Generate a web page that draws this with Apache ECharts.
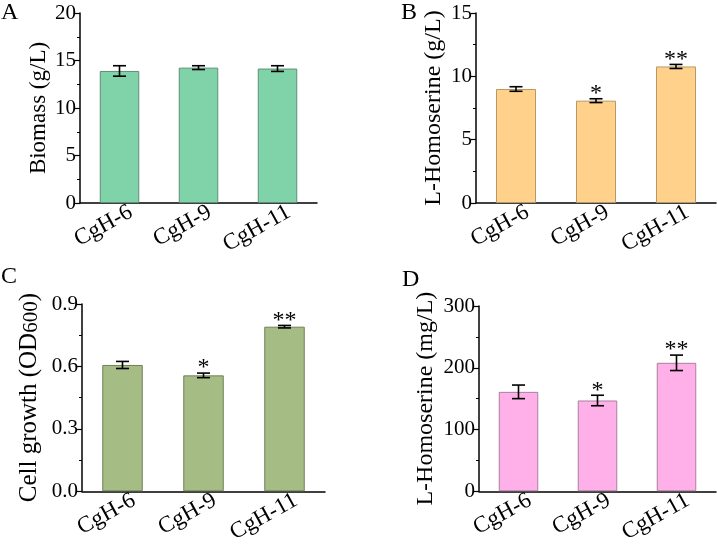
<!DOCTYPE html>
<html>
<head>
<meta charset="utf-8">
<script src="https://cdn.jsdelivr.net/npm/echarts@6/dist/echarts.min.js"></script>
<style>
html, body { margin: 0; padding: 0; background: #fff; }
#main { width: 717px; height: 546px; }
</style>
</head>
<body>
<div id="main"></div>
<script>
// strains on the x axis of every panel
const strains = ['CgH-6', 'CgH-9', 'CgH-11'];

// A: biomass (g/L)
const biomass = [13.9, 14.25, 14.15];
const biomassErr = [0.55, 0.2, 0.3];
const biomassSig = ['', '', ''];

// B: L-homoserine (g/L)
const homGL = [9.0, 8.08, 10.78];
const homGLErr = [0.18, 0.15, 0.16];
const homGLSig = ['', '*', '**'];

// C: cell growth (OD600)
const od600 = [0.607, 0.557, 0.791];
const od600Err = [0.017, 0.011, 0.006];
const od600Sig = ['', '*', '**'];

// D: L-homoserine (mg/L)
const homMgL = [161, 147, 208];
const homMgLErr = [11, 8.5, 12.5];
const homMgLSig = ['', '*', '**'];

// y axis ranges
const yMax = [20, 15, 0.9, 300];
const yStep = [5, 5, 0.3, 100];

var font = 'Liberation Serif';
var grids = [
    {left: 80, right: 400, top: 13, bottom: 343},
    {left: 476, right: 1, top: 13, bottom: 343},
    {left: 82, right: 392, top: 304, bottom: 52},
    {left: 479, right: 1, top: 306, bottom: 51}
];

function xAxis(i) {
    return {
        type: 'category',
        gridIndex: i,
        data: strains,
        axisLine: {lineStyle: {color: '#000', width: 1.5}},
        axisTick: {alignWithLabel: true, length: 5, lineStyle: {color: '#000', width: 1.2}},
        axisLabel: {rotate: 29, margin: 14, padding: [0, -13, 0, 0], fontFamily: font, fontSize: 23, color: '#000'}
    }
}

function yAxis(i, name, gap, size) {
    return {
        type: 'value',
        gridIndex: i,
        min: 0,
        max: yMax[i],
        interval: yStep[i],
        name: name,
        nameLocation: 'middle',
        nameGap: gap,
        nameTextStyle: {
            fontFamily: font, fontSize: size, color: '#000',
            rich: {
                a: {fontFamily: font, fontSize: size, color: '#000'},
                s: {fontFamily: font, fontSize: size - 4, color: '#000', verticalAlign: 'bottom'}
            }
        },
        axisLine: {show: true, lineStyle: {color: '#000', width: 1.5}},
        axisTick: {show: true, length: 5, lineStyle: {color: '#000', width: 1.2}},
        minorTick: {show: true, splitNumber: 2, length: 3, lineStyle: {color: '#000', width: 1}},
        splitLine: {show: false},
        axisLabel: {
            fontFamily: font, fontSize: 21, color: '#000', margin: 4,
            formatter: function (v) {
                return i == 2 ? v.toFixed(1) : String(v)
            }
        }
    }
}

function barSeries(i, vals, color, border) {
    return {
        type: 'bar',
        xAxisIndex: i,
        yAxisIndex: i,
        data: vals,
        barWidth: '50%',
        itemStyle: {color: color, borderColor: border, borderWidth: 1}
    }
}

function errSeries(i, vals, errs, sig) {
    return {
        type: 'custom',
        xAxisIndex: i,
        yAxisIndex: i,
        z: 10,
        data: vals.map((v, j) => [j, v, errs[j]]),
        renderItem: function (params, api) {
            var c = api.value(0), v = api.value(1), e = api.value(2)
            var x = api.coord([c, v])[0]
            var hi = api.coord([c, v + e])[1]
            var lo = api.coord([c, v - e])[1]
            var w = 6.5
            var style = {stroke: '#000', lineWidth: 1.6}
            var children = [
                {type: 'line', shape: {x1: x, y1: hi, x2: x, y2: lo}, style: style},
                {type: 'line', shape: {x1: x - w, y1: hi, x2: x + w, y2: hi}, style: style},
                {type: 'line', shape: {x1: x - w, y1: lo, x2: x + w, y2: lo}, style: style}
            ]
            var mark = sig[params.dataIndex]
            if (mark) {
                children.push({
                    type: 'text',
                    style: {
                        text: mark, x: x, y: hi + 7,
                        textAlign: 'center', textVerticalAlign: 'bottom',
                        fontFamily: font, fontSize: 24, fill: '#000'
                    }
                })
            }
            return {type: 'group', children: children}
        }
    }
}

function letter(t, x, y) {
    return {type: 'text', left: x, top: y, style: {text: t, font: '24px "Liberation Serif"', fill: '#000'}}
}

var chart = echarts.init(document.getElementById('main'))
chart.setOption({
    animation: false,
    backgroundColor: '#fff',
    grid: grids,
    xAxis: [xAxis(0), xAxis(1), xAxis(2), xAxis(3)],
    yAxis: [
        yAxis(0, 'Biomass (g/L)', 30, 23),
        yAxis(1, 'L-Homoserine (g/L)', 30, 24),
        yAxis(2, '{a|Cell growth (OD}{s|600}{a|)}', 40, 25),
        yAxis(3, 'L-Homoserine (mg/L)', 41, 24)
    ],
    series: [
        barSeries(0, biomass, '#80d3a8', '#5d8f76'),
        errSeries(0, biomass, biomassErr, biomassSig),
        barSeries(1, homGL, '#ffd18a', '#b89866'),
        errSeries(1, homGL, homGLErr, homGLSig),
        barSeries(2, od600, '#a5bd85', '#6f8058'),
        errSeries(2, od600, od600Err, od600Sig),
        barSeries(3, homMgL, '#ffb0e8', '#a87f9c'),
        errSeries(3, homMgL, homMgLErr, homMgLSig)
    ],
    graphic: [
        letter('A', 1, 1),
        letter('B', 401, 1),
        letter('C', 1, 265),
        letter('D', 402, 268)
    ]
})
</script>
</body>
</html>
